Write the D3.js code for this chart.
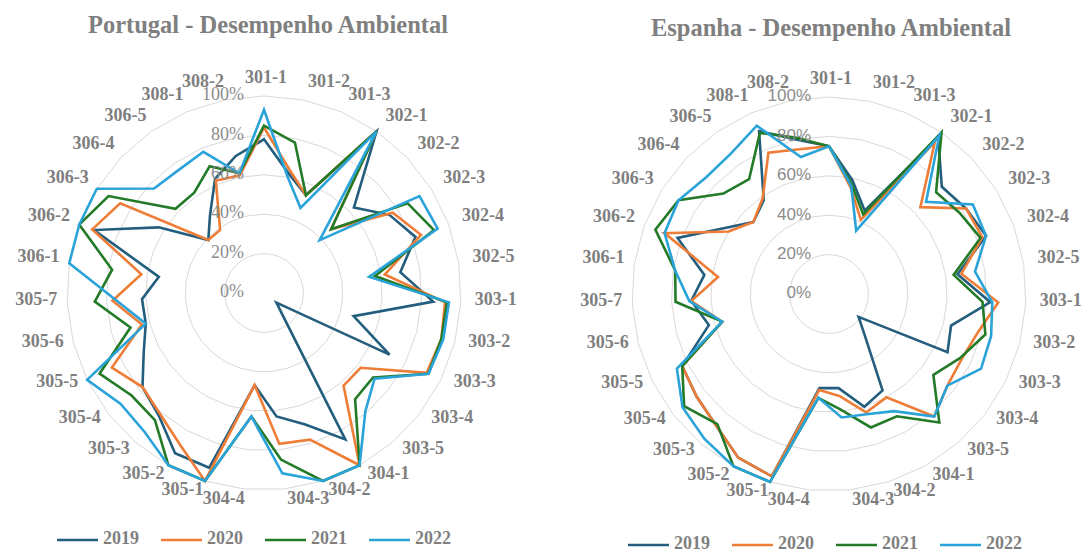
<!DOCTYPE html>
<html>
<head>
<meta charset="utf-8">
<script src="https://cdn.jsdelivr.net/npm/d3@7"></script>
<style>
  body { margin: 0; background: #fff; }
</style>
</head>
<body>
<div id="chart"></div>
<script>
// Data
const categories = ['301-1','301-2','301-3','302-1','302-2','302-3','302-4','302-5',
  '303-1','303-2','303-3','303-4','303-5','304-1','304-2','304-3','304-4',
  '305-1','305-2','305-3','305-4','305-5','305-6','305-7',
  '306-1','306-2','306-3','306-4','306-5','308-1','308-2']
const years = ['2019', '2020', '2021', '2022']
const tickValues = [0, 20, 40, 60, 80, 100]

// Portugal
const pt2019 = [78,62,54,100,63,75,82,70,86,47,71,8,14,85,70,63,47,93,93,82,78,68,62,62,54,92,63,39,48,63,71]
const pt2020 = [84,64,54,100,47,77,85,62,92,93,92,62,62,100,78,77,47,100,88,81,78,86,64,77,63,93,86,39,39,62,61]
const pt2021 = [85,78,54,100,47,86,92,57,93,93,93,70,71,100,100,85,63,100,100,85,85,93,70,86,78,100,93,62,62,70,62]
const pt2022 = [93,60,47,100,39,93,94,54,94,94,93,71,79,100,100,92,63,100,100,93,92,100,62,75,100,100,100,77,76,78,62]

// Espanha
const es2019 = [75,59,46,97,79,82,85,66,82,64,67,19,28,56,60,48,48,97,95,88,85,83,63,70,64,82,63,53,58,90,80]
const es2020 = [75,55,41,94,64,82,83,68,86,78,75,76,82,60,63,52,49,97,95,88,85,83,56,70,57,89,60,53,59,78,75]
const es2021 = [75,57,44,100,75,78,82,64,78,82,74,67,86,71,71,59,53,100,100,87,93,83,56,78,79,94,90,74,71,89,81]
const es2022 = [75,56,35,98,68,86,85,75,83,85,86,76,82,68,64,63,53,100,100,97,94,86,56,71,79,89,90,86,87,93,71]

const colors = ['#245e7e', '#ee7d37', '#237a27', '#2aa3d9']

const width = 1082, height = 552
const svg = d3.select('#chart').append('svg')
  .attr('width', width)
  .attr('height', height)
  .style('font-family', '"Liberation Serif", "Times New Roman", serif')

svg.append('rect').attr('width', width).attr('height', height).attr('fill', '#fff')

function drawRadar(cfg) {
  const R = 197
  const step = 2 * Math.PI / categories.length
  const rScale = d3.scaleLinear().domain([0, 100]).range([0, R])

  svg.append('text')
    .attr('x', cfg.titleX).attr('y', cfg.titleY)
    .attr('text-anchor', 'middle')
    .attr('dominant-baseline', 'middle')
    .attr('font-size', 24.5)
    .attr('font-weight', 'bold')
    .attr('fill', '#7f7f7f')
    .text(cfg.title)

  const g = svg.append('g')
    .attr('transform', `translate(${cfg.cx},${cfg.cy})`)

  // grid
  const gridLine = d3.lineRadial()
    .angle((d, i) => i * step)
    .radius(d => rScale(d))
    .curve(d3.curveLinearClosed)
  g.selectAll('.grid')
    .data(tickValues.slice(1))
    .join('path')
    .attr('d', t => gridLine(categories.map(() => t)))
    .attr('fill', 'none')
    .attr('stroke', '#d9d9d9')
    .attr('stroke-width', 1)

  // series
  const line = d3.lineRadial()
    .angle((d, i) => i * step)
    .radius(d => rScale(d))
    .curve(d3.curveLinearClosed)
  g.selectAll('.series')
    .data(cfg.series)
    .join('path')
    .attr('d', d => line(d))
    .attr('fill', 'none')
    .attr('stroke', (d, i) => colors[i])
    .attr('stroke-width', 2.6)
    .attr('stroke-linejoin', 'miter')

  // tick labels
  g.selectAll('.tick')
    .data(tickValues)
    .join('text')
    .attr('x', cfg.tickX)
    .attr('y', d => -rScale(d))
    .attr('text-anchor', 'end')
    .attr('dominant-baseline', 'middle')
    .attr('font-family', cfg.tickFont)
    .attr('font-size', cfg.tickSize)
    .attr('fill', '#8c8c8c')
    .text(d => d + '%')

  // category labels
  g.selectAll('.cat')
    .data(categories)
    .join('text')
    .attr('x', (d, i) => 2 + 209 * Math.sin(i * step))
    .attr('y', (d, i) => -3 - 211 * Math.cos(i * step))
    .attr('text-anchor', (d, i) => i === 0 ? 'middle' : (i < categories.length / 2 ? 'start' : 'end'))
    .attr('dominant-baseline', 'middle')
    .attr('font-size', 18)
    .attr('font-weight', 'bold')
    .attr('fill', '#7f7f7f')
    .text(d => d)

  // legend
  const leg = svg.append('g')
    .attr('transform', `translate(${cfg.legendX},${cfg.legendY})`)
  const item = leg.selectAll('g')
    .data(years)
    .join('g')
    .attr('transform', (d, i) => `translate(${i * 104},0)`)
  item.append('line')
    .attr('x1', 0).attr('x2', 41)
    .attr('stroke', (d, i) => colors[i])
    .attr('stroke-width', 2.6)
  item.append('text')
    .attr('x', 46)
    .attr('dominant-baseline', 'middle')
    .attr('font-size', 18)
    .attr('font-weight', 'bold')
    .attr('fill', '#7f7f7f')
    .text(d => d)
}

drawRadar({
  title: 'Portugal - Desempenho Ambiental',
  titleX: 268, titleY: 27,
  cx: 264, cy: 293,
  tickX: -20, tickFont: '"Liberation Serif", serif', tickSize: 18,
  series: [pt2019, pt2020, pt2021, pt2022],
  legendX: 57, legendY: 540
})

drawRadar({
  title: 'Espanha - Desempenho Ambiental',
  titleX: 831, titleY: 30,
  cx: 829, cy: 294,
  tickX: -18, tickFont: '"Liberation Sans", Arial, sans-serif', tickSize: 17,
  series: [es2019, es2020, es2021, es2022],
  legendX: 628, legendY: 545
})
</script>
</body>
</html>
